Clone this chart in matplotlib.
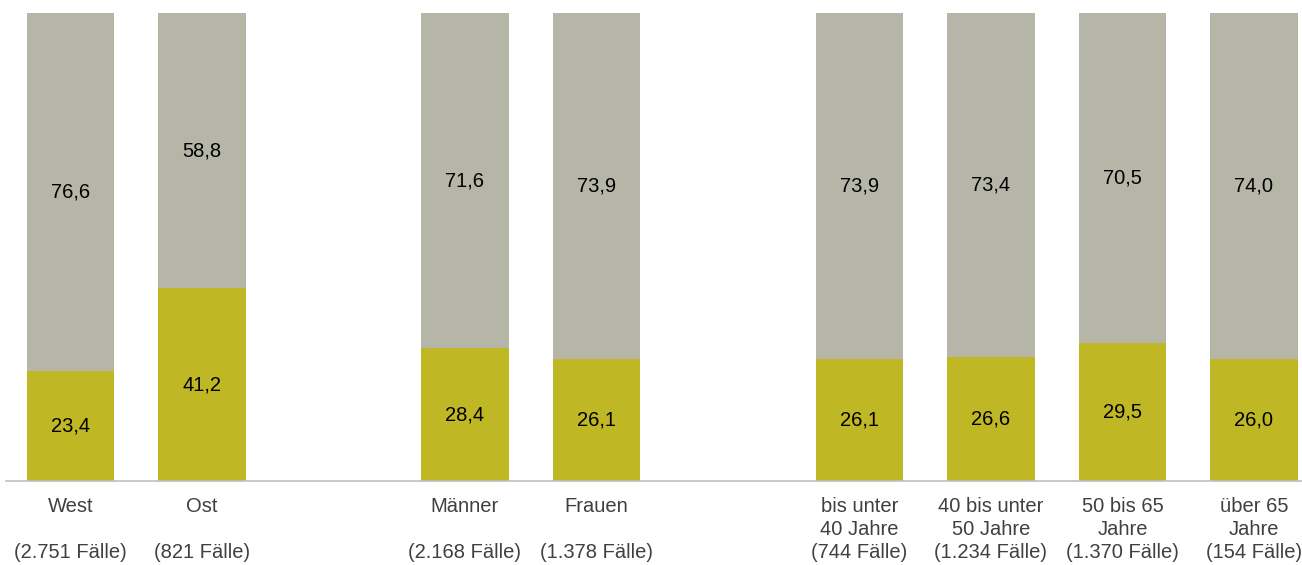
import numpy as np
import matplotlib.pyplot as plt

plt.rcParams['font.family'] = ['Liberation Sans', 'DejaVu Sans']

# data
labels = ['West\n\n(2.751 Fälle)', 'Ost\n\n(821 Fälle)',
          'Männer\n\n(2.168 Fälle)', 'Frauen\n\n(1.378 Fälle)',
          'bis unter\n40 Jahre\n(744 Fälle)', '40 bis unter\n50 Jahre\n(1.234 Fälle)',
          '50 bis 65\nJahre\n(1.370 Fälle)', 'über 65\nJahre\n(154 Fälle)']
positions = [0, 1, 3, 4, 6, 7, 8, 9]
lower = [23.4, 41.2, 28.4, 26.1, 26.1, 26.6, 29.5, 26.0]
upper = [76.6, 58.8, 71.6, 73.9, 73.9, 73.4, 70.5, 74.0]

c_low = '#BFB723'
c_up = '#B5B5A8'

fig = plt.figure(figsize=(13.02, 5.65), dpi=100)
ax = fig.add_axes([6/1302, 84/565, 1296/1302, 468/565])

w = 0.665
ax.bar(positions, lower, width=w, color=c_low, edgecolor='none')
ax.bar(positions, upper, bottom=lower, width=w, color=c_up, edgecolor='none')

for x, lo, up in zip(positions, lower, upper):
    ax.text(x, lo/2, f'{lo:.1f}'.replace('.', ','), ha='center', va='center',
            fontsize=14.5, color='black')
    ax.text(x, lo + up/2, f'{up:.1f}'.replace('.', ','), ha='center', va='center',
            fontsize=14.5, color='black')

ax.set_xlim(-0.49, 9.365)
ax.set_ylim(0, 100)
ax.set_xticks(positions)
ax.set_xticklabels(labels, fontsize=14.5, color='#404040', linespacing=1.27)
ax.tick_params(axis='x', length=0, pad=11.5)
ax.set_yticks([])
for s in ['top', 'right', 'left']:
    ax.spines[s].set_visible(False)
ax.spines['bottom'].set_color('#BFBFBF')
ax.spines['bottom'].set_linewidth(1.2)

fig.savefig('out.png', dpi=100)
